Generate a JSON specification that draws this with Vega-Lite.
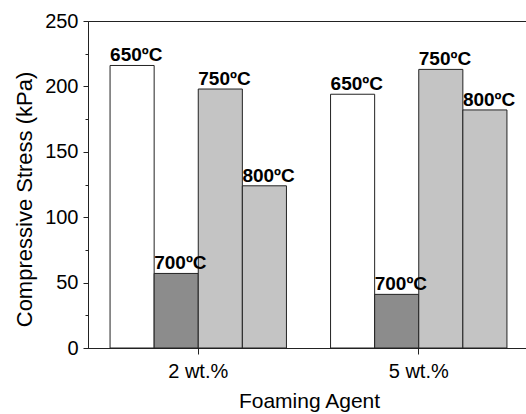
{
  "$schema": "https://vega.github.io/schema/vega-lite/v6.json",
  "width": 441,
  "height": 327,
  "autosize": {"type": "none"},
  "padding": {"left": 88, "top": 21, "right": 0, "bottom": 66},
  "background": "white",
  "config": {
    "view": {"stroke": "#222", "strokeWidth": 1},
    "font": "Liberation Sans"
  },
  "data": {
    "values": [
      {"agent": "2 wt.%", "temp": "650ºC", "stress": 216},
      {"agent": "2 wt.%", "temp": "700ºC", "stress": 57},
      {"agent": "2 wt.%", "temp": "750ºC", "stress": 198},
      {"agent": "2 wt.%", "temp": "800ºC", "stress": 124},
      {"agent": "5 wt.%", "temp": "650ºC", "stress": 194},
      {"agent": "5 wt.%", "temp": "700ºC", "stress": 41},
      {"agent": "5 wt.%", "temp": "750ºC", "stress": 213},
      {"agent": "5 wt.%", "temp": "800ºC", "stress": 182}
    ]
  },
  "encoding": {
    "x": {
      "field": "agent",
      "type": "nominal",
      "scale": {"paddingInner": 0, "paddingOuter": 0},
      "axis": {
        "title": "Foaming Agent",
        "labelAngle": 0,
        "labelFontSize": 20,
        "labelColor": "black",
        "labelBaseline": "alphabetic",
        "labelPadding": 23,
        "tickSize": 6,
        "tickColor": "#222",
        "domainColor": "#222",
        "titleFontSize": 21,
        "titleFontWeight": "normal",
        "titleColor": "black",
        "titleX": 221,
        "titleY": 59,
        "titleAlign": "center",
        "titleBaseline": "alphabetic"
      }
    },
    "xOffset": {
      "field": "temp",
      "type": "nominal",
      "scale": {"paddingInner": 0, "paddingOuter": 0.5}
    },
    "y": {
      "field": "stress",
      "type": "quantitative",
      "scale": {"domain": [0, 250], "nice": false},
      "axis": {
        "title": "Compressive Stress (kPa)",
        "values": [0, 25, 50, 75, 100, 125, 150, 175, 200, 225, 250],
        "labelExpr": "datum.value % 50 === 0 ? datum.label : ''",
        "tickSize": {"condition": {"test": "datum.value % 50 === 0", "value": 5}, "value": 3},
        "labelFontSize": 20,
        "labelPadding": 5,
        "labelColor": "black",
        "labelOverlap": false,
        "tickColor": "#222",
        "domainColor": "#222",
        "grid": false,
        "titleFontSize": 22,
        "titleFontWeight": "normal",
        "titleColor": "black",
        "titleX": -57,
        "titleY": 178,
        "titleAngle": -90,
        "titleAlign": "center",
        "titleBaseline": "alphabetic"
      }
    }
  },
  "layer": [
    {
      "mark": {"type": "bar", "stroke": "#222", "strokeWidth": 1},
      "encoding": {
        "fill": {
          "field": "temp",
          "type": "nominal",
          "scale": {
            "domain": ["650ºC", "700ºC", "750ºC", "800ºC"],
            "range": ["#ffffff", "#8c8c8c", "#c4c4c4", "#c4c4c4"]
          },
          "legend": null
        }
      }
    },
    {
      "mark": {
        "type": "text",
        "align": "left",
        "baseline": "alphabetic",
        "dx": -22,
        "dy": -4,
        "fontSize": 19,
        "fontWeight": "bold",
        "color": "black"
      },
      "encoding": {"text": {"field": "temp"}}
    }
  ]
}
